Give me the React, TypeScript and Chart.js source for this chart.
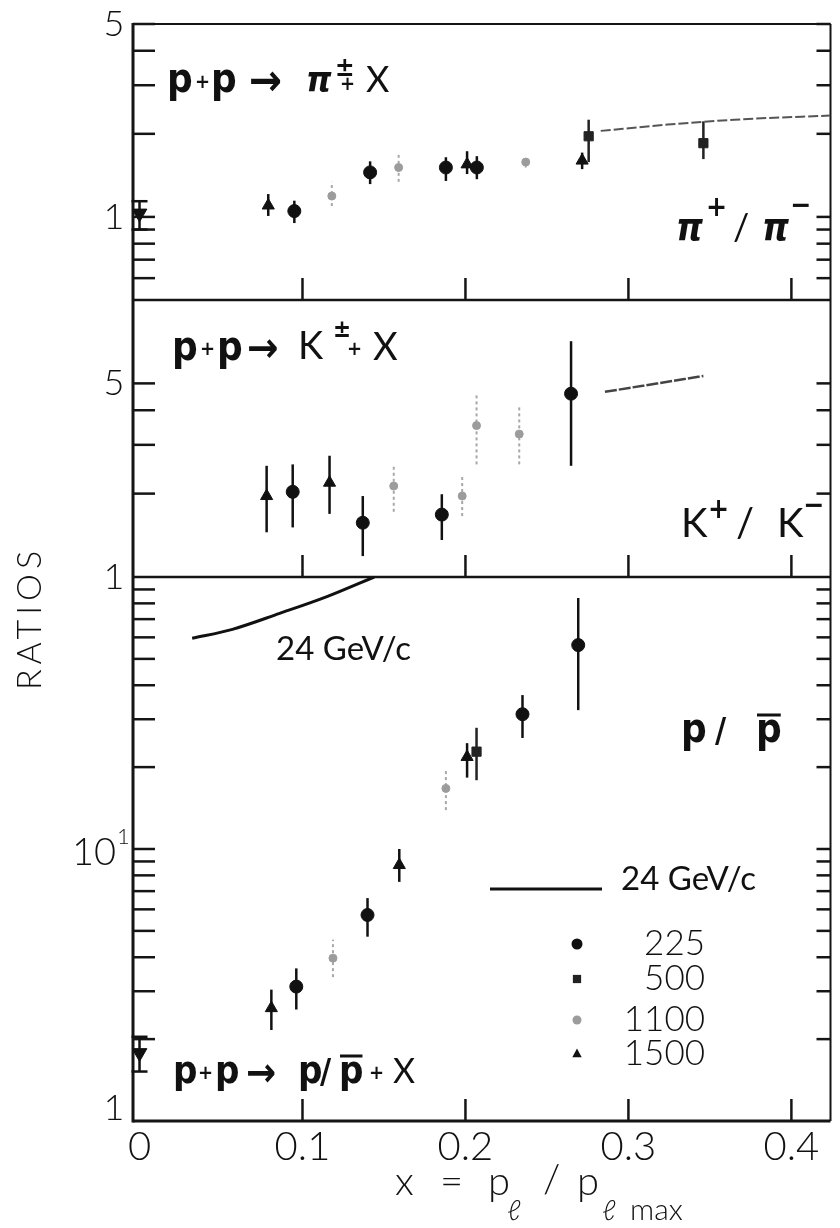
import React, { useEffect, useRef } from 'react';
import { Chart, registerables } from 'chart.js';

Chart.register(...registerables);

const W = 840;
const H = 1228;

// ---------- axes ----------
const X_MIN = -0.004;
const X_MAX = 0.424;
const X_TICKS = [0, 0.1, 0.2, 0.3, 0.4];
const X_TICK_LABELS = ['0', '0.1', '0.2', '0.3', '0.4'];

const PI_RANGE = [0.5, 5];
const K_RANGE = [1, 10];
const P_RANGE = [0.01, 1];

const PI_TICKS = [0.6, 0.7, 0.8, 0.9, 1, 2, 3, 4];
const K_TICKS = [2, 3, 4, 5];
const P_TICKS = [0.02, 0.03, 0.04, 0.05, 0.06, 0.07, 0.08, 0.09, 0.1, 0.2, 0.3, 0.4, 0.5, 0.6, 0.7, 0.8, 0.9];

const PI_TICK_LABELS: [number, string][] = [[5, '5'], [1, '1']];
const K_TICK_LABELS: [number, string][] = [[5, '5'], [1, '1']];
const P_TICK_LABELS: [number, string][] = [[0.1, '10'], [0.01, '1']];

const ENERGIES = ['225', '500', '1100', '1500'];
const CURVE_LABEL = '24 GeV/c';

// ---------- data: [x, ratio, error low, error high] ----------
type Pt = [number, number, number, number];

// p+p -> pi+/pi-
const piX0: Pt[] = [[0, 1.03, 0.9, 1.14]];
const pi225: Pt[] = [[0.095, 1.05, 0.95, 1.145], [0.1415, 1.45, 1.315, 1.59], [0.188, 1.51, 1.35, 1.645], [0.207, 1.51, 1.37, 1.66]];
const pi500: Pt[] = [[0.2756, 1.96, 1.58, 2.25], [0.346, 1.85, 1.62, 2.22]];
const pi1100: Pt[] = [[0.118, 1.19, 1.095, 1.34], [0.159, 1.51, 1.34, 1.69], [0.237, 1.58, 1.51, 1.645]];
const pi1500: Pt[] = [[0.079, 1.1, 1.008, 1.21], [0.201, 1.55, 1.43, 1.73], [0.2716, 1.6, 1.49, 1.71]];
const piCurveX = [0.283, 0.324, 0.365, 0.424];
const piCurveY = [2.05, 2.16, 2.25, 2.33];

// p+p -> K+/K-
const k225: Pt[] = [[0.094, 2.03, 1.51, 2.55], [0.137, 1.57, 1.19, 1.96], [0.1855, 1.68, 1.36, 1.99], [0.2648, 4.59, 2.52, 7.1]];
const k1100: Pt[] = [[0.156, 2.13, 1.72, 2.53], [0.198, 1.96, 1.66, 2.32], [0.2068, 3.52, 2.55, 4.59], [0.233, 3.28, 2.55, 4.16]];
const k1500: Pt[] = [[0.078, 1.96, 1.45, 2.52], [0.1166, 2.19, 1.69, 2.74]];
const kCurveX = [0.2856, 0.346];
const kCurveY = [4.66, 5.32];

// p+p -> p/pbar
const pX0: Pt[] = [[0, 0.0178, 0.0152, 0.0204]];
const p225: Pt[] = [[0.0962, 0.0312, 0.0257, 0.0364], [0.1399, 0.0572, 0.0476, 0.066], [0.235, 0.313, 0.256, 0.368], [0.2692, 0.562, 0.324, 0.837]];
const p500: Pt[] = [[0.2068, 0.228, 0.179, 0.279]];
const p1100: Pt[] = [[0.1187, 0.0397, 0.0338, 0.0464], [0.188, 0.167, 0.139, 0.195]];
const p1500: Pt[] = [[0.0809, 0.026, 0.0216, 0.0304], [0.1594, 0.0873, 0.0757, 0.1], [0.201, 0.218, 0.183, 0.245]];
const pCurveX = [0.0323, 0.057, 0.086, 0.115, 0.144];
const pCurveY = [0.595, 0.642, 0.735, 0.847, 1.0];

// ---------- styles ----------
const STYLE: Record<string, any> = {
  x0: { pointStyle: 'triangle', rotation: 180, radius: 8.5, color: '#111', err: '#111', width: 2.5, dash: [], cap: 8 },
  '225': { pointStyle: 'circle', rotation: 0, radius: 6.5, color: '#111', err: '#111', width: 2.5, dash: [], cap: 0 },
  '500': { pointStyle: 'rect', rotation: 0, radius: 6.5, color: '#222', err: '#222', width: 2.5, dash: [], cap: 0 },
  '1100': { pointStyle: 'circle', rotation: 0, radius: 4, color: '#9c9c9c', err: '#a8a8a8', width: 2, dash: [3, 3], cap: 0 },
  '1500': { pointStyle: 'triangle', rotation: 0, radius: 7, color: '#111', err: '#111', width: 2.5, dash: [], cap: 0 },
};

function pointSet(pts: Pt[], axis: string, key: string) {
  const s = STYLE[key];
  return {
    label: key,
    yAxisID: axis,
    data: pts.map((p) => ({ x: p[0], y: p[1] })),
    errors: pts.map((p) => [p[2], p[3]]),
    errColor: s.err,
    errWidth: s.width,
    errDash: s.dash,
    errCap: s.cap,
    showLine: false,
    pointStyle: s.pointStyle,
    rotation: s.rotation,
    pointRadius: s.radius,
    pointBackgroundColor: s.color,
    pointBorderColor: s.color,
    pointBorderWidth: 1,
  };
}

function curveSet(xs: number[], ys: number[], axis: string, color: string, width: number, dash: number[]) {
  return {
    label: CURVE_LABEL,
    yAxisID: axis,
    data: xs.map((x, i) => ({ x, y: ys[i] })),
    showLine: true,
    cubicInterpolationMode: 'monotone',
    borderColor: color,
    borderWidth: width,
    borderDash: dash,
    pointRadius: 0,
    fill: false,
  };
}

const LIGHT = (s: number) => `300 ${s}px Lato, Roboto, "DejaVu Sans", sans-serif`;
const REG = (s: number) => `400 ${s}px Lato, Roboto, "DejaVu Sans", sans-serif`;
const BOLD = (s: number) => `bold ${s}px "DejaVu Sans Condensed", "Liberation Sans Narrow", "DejaVu Sans", sans-serif`;
const BOLDI = (s: number) => `italic bold ${s}px "DejaVu Sans Condensed", "DejaVu Sans", sans-serif`;

function seg(ctx: CanvasRenderingContext2D, x1: number, y1: number, x2: number, y2: number) {
  ctx.beginPath();
  ctx.moveTo(x1, y1);
  ctx.lineTo(x2, y2);
  ctx.stroke();
}

type Piece = { t: string; f: string; x: number; y: number; over?: boolean };
function drawPieces(ctx: CanvasRenderingContext2D, pieces: Piece[]) {
  ctx.textAlign = 'left';
  ctx.textBaseline = 'alphabetic';
  for (const p of pieces) {
    ctx.font = p.f;
    ctx.fillText(p.t, p.x, p.y);
    if (p.over) {
      const w = ctx.measureText(p.t).width;
      ctx.lineWidth = 3;
      seg(ctx, p.x + 1, p.y - 27, p.x + w - 1, p.y - 27);
    }
  }
}

function marker(ctx: CanvasRenderingContext2D, key: string, x: number, y: number, r: number) {
  const s = STYLE[key];
  ctx.fillStyle = s.color;
  ctx.strokeStyle = s.color;
  ctx.beginPath();
  if (s.pointStyle === 'circle') ctx.arc(x, y, r, 0, Math.PI * 2);
  else if (s.pointStyle === 'rect') ctx.rect(x - r * 0.75, y - r * 0.75, r * 1.5, r * 1.5);
  else {
    ctx.moveTo(x, y - r);
    ctx.lineTo(x + r * 0.85, y + r * 0.6);
    ctx.lineTo(x - r * 0.85, y + r * 0.6);
    ctx.closePath();
  }
  ctx.fill();
}

const decorPlugin = {
  id: 'decor',
  beforeDatasetsDraw(chart: any) {
    const { ctx, chartArea: a, scales } = chart;
    const xs = scales.x;
    const panels: [any, number[]][] = [
      [scales.yPi, PI_TICKS.concat([PI_RANGE[1]])],
      [scales.yK, K_TICKS],
      [scales.yP, P_TICKS],
    ];
    ctx.save();
    ctx.strokeStyle = '#151515';
    ctx.lineCap = 'butt';
    ctx.lineWidth = 2;
    seg(ctx, a.left, a.top, a.right, a.top);
    ctx.lineWidth = 3;
    seg(ctx, a.left, a.top - 1, a.left, a.bottom + 1.5);
    seg(ctx, a.left, a.bottom, a.right, a.bottom);
    ctx.lineWidth = 2;
    seg(ctx, a.right, a.top, a.right, a.bottom);
    ctx.lineWidth = 2.5;
    seg(ctx, a.left, scales.yPi.bottom, a.right, scales.yPi.bottom);
    seg(ctx, a.left, scales.yK.bottom, a.right, scales.yK.bottom);
    ctx.lineWidth = 2.5;
    for (const [s, ticks] of panels) {
      for (const v of ticks) {
        const y = s.getPixelForValue(v);
        seg(ctx, a.left, y, a.left + 22, y);
        seg(ctx, a.right - 14, y, a.right, y);
      }
      for (const v of X_TICKS) {
        if (v <= 0) continue;
        const x = xs.getPixelForValue(v);
        seg(ctx, x, s.bottom, x, s.bottom - 22);
      }
    }
    // error bars
    chart.data.datasets.forEach((ds: any) => {
      if (!ds.errors) return;
      const ys = scales[ds.yAxisID];
      ctx.strokeStyle = ds.errColor;
      ctx.lineWidth = ds.errWidth;
      ctx.setLineDash(ds.errDash);
      ds.data.forEach((p: any, j: number) => {
        const x = xs.getPixelForValue(p.x);
        const y1 = ys.getPixelForValue(ds.errors[j][0]);
        const y2 = ys.getPixelForValue(ds.errors[j][1]);
        seg(ctx, x, y1, x, y2);
        if (ds.errCap) {
          seg(ctx, x - ds.errCap, y1, x + ds.errCap, y1);
          seg(ctx, x - ds.errCap, y2, x + ds.errCap, y2);
        }
      });
      ctx.setLineDash([]);
    });
    ctx.restore();
  },
  afterDraw(chart: any) {
    const { ctx, scales } = chart;
    ctx.save();
    ctx.fillStyle = '#111';
    ctx.strokeStyle = '#111';

    // y tick labels
    ctx.font = LIGHT(36);
    ctx.textBaseline = 'middle';
    ctx.textAlign = 'center';
    const lab: [any, [number, string][]][] = [
      [scales.yPi, PI_TICK_LABELS],
      [scales.yK, K_TICK_LABELS],
      [scales.yP, P_TICK_LABELS],
    ];
    for (const [s, list] of lab) {
      for (const [v, t] of list) {
        let y = s.getPixelForValue(v);
        if (t === '10') {
          ctx.textAlign = 'right';
          ctx.font = LIGHT(38);
          ctx.fillText(t, 116, y + 4);
          ctx.font = LIGHT(22);
          ctx.textAlign = 'left';
          ctx.fillText('1', 117, y - 12);
          ctx.font = LIGHT(36);
          ctx.textAlign = 'center';
        } else {
          if (s === scales.yP && v === P_RANGE[0]) y -= 13;
          ctx.fillText(t, 114, y);
        }
      }
    }

    // axis titles
    ctx.save();
    ctx.translate(30, 618);
    ctx.rotate(-Math.PI / 2);
    ctx.font = LIGHT(34);
    (ctx as any).letterSpacing = '5px';
    ctx.textAlign = 'center';
    ctx.textBaseline = 'middle';
    ctx.fillText('RATIOS', 0, 0);
    ctx.restore();

    drawPieces(ctx, [
      { t: 'x', f: LIGHT(40), x: 395, y: 1195 },
      { t: '=', f: LIGHT(40), x: 440, y: 1195 },
      { t: 'p', f: LIGHT(40), x: 488, y: 1195 },
      { t: 'ℓ', f: LIGHT(28), x: 507, y: 1220 },
      { t: '/', f: LIGHT(40), x: 543, y: 1193 },
      { t: 'p', f: LIGHT(40), x: 577, y: 1195 },
      { t: 'ℓ', f: LIGHT(28), x: 602, y: 1220 },
      { t: 'max', f: LIGHT(30), x: 630, y: 1220 },
    ]);

    // panel titles
    drawPieces(ctx, [
      { t: 'p', f: BOLD(40), x: 167, y: 92 },
      { t: '+', f: BOLD(20), x: 195, y: 88 },
      { t: 'p', f: BOLD(40), x: 211, y: 92 },
      { t: '→', f: BOLD(44), x: 249, y: 95 },
      { t: 'π', f: BOLDI(36), x: 306, y: 92 },
      { t: '±', f: BOLD(26), x: 335, y: 76 },
      { t: '+', f: BOLD(20), x: 340, y: 90 },
      { t: 'X', f: REG(36), x: 366, y: 92 },
    ]);
    drawPieces(ctx, [
      { t: 'p', f: BOLD(40), x: 172, y: 360 },
      { t: '+', f: BOLD(20), x: 200, y: 355 },
      { t: 'p', f: BOLD(40), x: 217, y: 360 },
      { t: '→', f: BOLD(42), x: 247, y: 362 },
      { t: 'K', f: REG(38), x: 298, y: 359 },
      { t: '±', f: BOLD(24), x: 333, y: 337 },
      { t: '+', f: BOLD(20), x: 347, y: 355 },
      { t: 'X', f: REG(38), x: 373, y: 360 },
    ]);
    drawPieces(ctx, [
      { t: 'p', f: BOLD(38), x: 173, y: 1083 },
      { t: '+', f: BOLD(20), x: 198, y: 1079 },
      { t: 'p', f: BOLD(38), x: 215, y: 1083 },
      { t: '→', f: BOLD(40), x: 246, y: 1086 },
      { t: 'p', f: BOLD(38), x: 298, y: 1083 },
      { t: '/', f: BOLD(34), x: 320, y: 1083 },
      { t: 'p', f: BOLD(38), x: 339, y: 1083, over: true },
      { t: '+', f: BOLD(20), x: 369, y: 1079 },
      { t: 'X', f: REG(34), x: 393, y: 1083 },
    ]);

    // ratio labels
    drawPieces(ctx, [
      { t: 'π', f: BOLDI(38), x: 676, y: 240 },
      { t: '+', f: BOLD(28), x: 706, y: 216 },
      { t: '/', f: REG(36), x: 733, y: 240 },
      { t: 'π', f: BOLDI(38), x: 762, y: 240 },
      { t: '−', f: BOLD(28), x: 790, y: 214 },
    ]);
    drawPieces(ctx, [
      { t: 'K', f: REG(40), x: 681, y: 537 },
      { t: '+', f: BOLD(28), x: 708, y: 518 },
      { t: '/', f: REG(40), x: 736, y: 537 },
      { t: 'K', f: REG(40), x: 777, y: 537 },
      { t: '−', f: BOLD(28), x: 803, y: 514 },
    ]);
    drawPieces(ctx, [
      { t: 'p', f: BOLD(40), x: 681, y: 742 },
      { t: '/', f: BOLD(34), x: 715, y: 742 },
      { t: 'p', f: BOLD(40), x: 756, y: 742, over: true },
    ]);

    // 24 GeV/c curve label and legend
    ctx.font = REG(33);
    ctx.textAlign = 'left';
    ctx.textBaseline = 'alphabetic';
    ctx.fillText(CURVE_LABEL, 276, 660);
    ctx.fillText(CURVE_LABEL, 621, 890);
    ctx.lineWidth = 3;
    seg(ctx, 490, 889, 602, 889);

    const rows = [944, 979, 1020, 1054];
    ctx.font = LIGHT(35);
    ctx.textAlign = 'right';
    ctx.textBaseline = 'middle';
    ENERGIES.forEach((e, i) => {
      marker(ctx, e, 577, rows[i], e === '1100' ? 4.5 : 5.5);
      ctx.fillStyle = '#111';
      ctx.fillText(e, 705, rows[i]);
    });
    ctx.restore();
  },
};

function yScale(min: number, max: number, weight: number, stackWeight: number) {
  return {
    type: 'logarithmic',
    position: 'left',
    stack: 'ratios',
    stackWeight,
    weight,
    min,
    max,
    grid: { display: false, drawTicks: false },
    border: { display: false },
    ticks: { display: false },
    afterFit: (s: any) => {
      s.width = 133;
    },
  };
}

export default function App() {
  const ref = useRef<HTMLCanvasElement>(null);
  useEffect(() => {
    if (!ref.current) return;
    const datasets: any[] = [
      pointSet(piX0, 'yPi', 'x0'),
      pointSet(pi225, 'yPi', '225'),
      pointSet(pi500, 'yPi', '500'),
      pointSet(pi1100, 'yPi', '1100'),
      pointSet(pi1500, 'yPi', '1500'),
      curveSet(piCurveX, piCurveY, 'yPi', '#555', 2, [10, 3]),
      pointSet(k225, 'yK', '225'),
      pointSet(k1100, 'yK', '1100'),
      pointSet(k1500, 'yK', '1500'),
      curveSet(kCurveX, kCurveY, 'yK', '#444', 2.5, [12, 2]),
      pointSet(pX0, 'yP', 'x0'),
      pointSet(p225, 'yP', '225'),
      pointSet(p500, 'yP', '500'),
      pointSet(p1100, 'yP', '1100'),
      pointSet(p1500, 'yP', '1500'),
      curveSet(pCurveX, pCurveY, 'yP', '#111', 3, []),
    ];
    const chart = new Chart(ref.current, {
      type: 'scatter',
      data: { datasets },
      options: {
        animation: false,
        responsive: false,
        devicePixelRatio: 1,
        layout: { padding: { left: 0, right: 1, top: 24, bottom: 0 } },
        plugins: { legend: { display: false }, tooltip: { enabled: false } },
        scales: {
          x: {
            type: 'linear',
            position: 'bottom',
            min: X_MIN,
            max: X_MAX,
            grid: { display: false, drawTicks: false },
            border: { display: false },
            afterBuildTicks: (s: any) => {
              s.ticks = X_TICKS.map((v) => ({ value: v }));
            },
            afterFit: (s: any) => {
              s.height = H - 1121;
            },
            ticks: {
              autoSkip: false,
              maxRotation: 0,
              padding: 2,
              color: '#111',
              font: { family: 'Lato, Roboto, sans-serif', size: 40, weight: '300' },
              callback: (v: any) => {
                const i = X_TICKS.indexOf(Number(v));
                return i >= 0 ? X_TICK_LABELS[i] : '';
              },
            },
          },
          yPi: yScale(PI_RANGE[0], PI_RANGE[1], 3, 276),
          yK: yScale(K_RANGE[0], K_RANGE[1], 2, 277),
          yP: yScale(P_RANGE[0], P_RANGE[1], 1, 544),
        } as any,
      },
      plugins: [decorPlugin],
    } as any);
    return () => chart.destroy();
  }, []);
  return (
    <div style={{ position: 'absolute', left: 0, top: 0, width: W, height: H, background: '#fff' }}>
      <canvas ref={ref} width={W} height={H} style={{ display: 'block', width: W, height: H }} />
    </div>
  );
}
